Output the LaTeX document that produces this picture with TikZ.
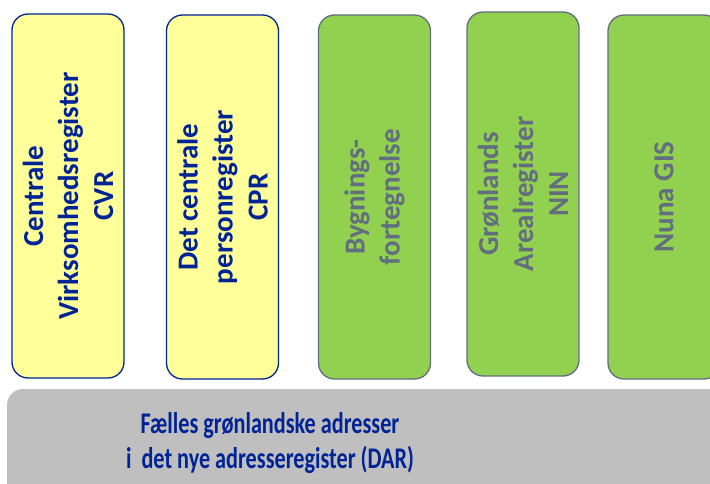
\documentclass[tikz,border=0pt]{standalone}
\usepackage{fontspec}
\setmainfont{Carlito}
\usepackage{tikz}
\usetikzlibrary{positioning}
\definecolor{regblue}{RGB}{0,35,150}
\definecolor{regyellow}{RGB}{255,255,153}
\definecolor{reggreen}{RGB}{146,208,80}
\definecolor{regslate}{RGB}{98,110,128}
\definecolor{darbg}{RGB}{191,191,191}
\tikzset{
  regbox/.style={draw, rotate=90, rounded corners=16pt, minimum width=364pt,
    minimum height=112pt, align=center, line width=1.3pt,
    font=\bfseries\fontsize{29}{35}\selectfont},
  yellowbox/.style={regbox, fill=regyellow, draw=regblue, text=regblue},
  greenbox/.style={regbox, fill=reggreen, draw=regslate, text=regslate}
}

\begin{document}
\begin{tikzpicture}[x=1pt, y=-1pt]
\useasboundingbox (0, 0) rectangle (710, 484);
\clip (0, 0) rectangle (710, 484);
\node[yellowbox] (CVR) at (68, 196) {Centrale\\Virksomhedsregister\\CVR};
\node[yellowbox] (CPR) at (222.5, 197) {Det centrale\\personregister\\CPR};
\node[greenbox] (BBR) at (374.5, 197) {Bygnings-\\fortegnelse};
\node[greenbox] (NIN) at (523, 194) {Grønlands\\Arealregister\\NIN};
\node[greenbox] (GIS) at (664, 197) {Nuna GIS};
\fill[darbg, rounded corners=16pt] (7, 389) rectangle (760, 540);
\node[align=center, text=regblue, xscale=0.74, transform shape,
  font=\bfseries\fontsize{30}{35}\selectfont] (DAR) at (270, 443)
  {Fælles grønlandske adresser\\i\ \ det nye adresseregister (DAR)};
\end{tikzpicture}
\end{document}
